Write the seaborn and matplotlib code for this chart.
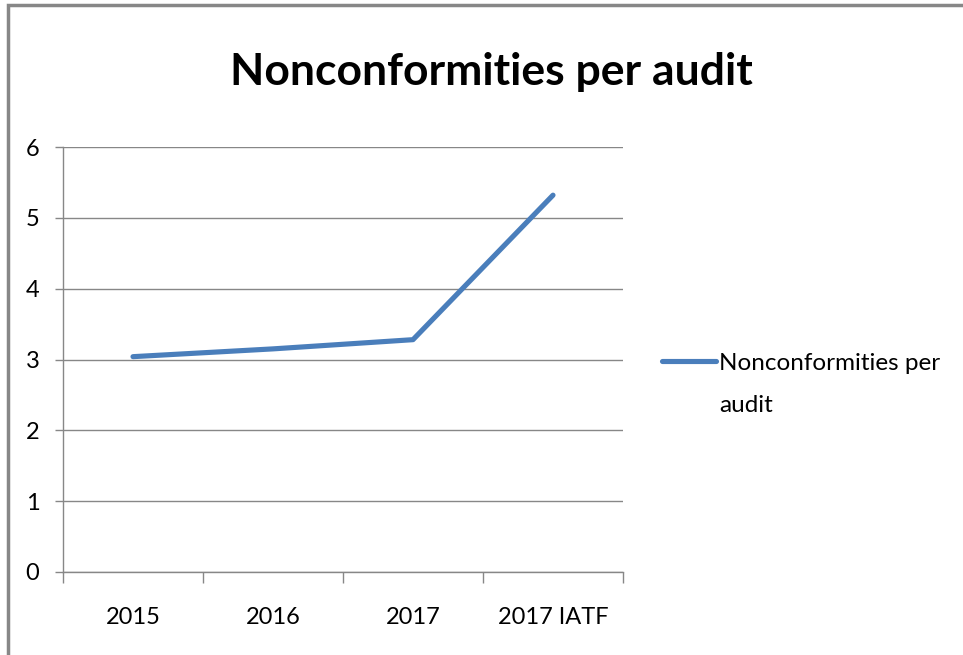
import matplotlib
matplotlib.use("Agg")
import matplotlib.pyplot as plt
import seaborn as sns
import pandas as pd
from matplotlib.patches import Rectangle

categories = ["2015", "2016", "2017", "2017 IATF"]
values = [3.04, 3.15, 3.28, 5.32]
series_name = "Nonconformities per audit"

df = pd.DataFrame({"year": range(len(categories)), "value": values})

sns.set_style("white")
plt.rcParams["font.family"] = ["Lato", "DejaVu Sans"]
plt.rcParams["text.color"] = "black"
plt.rcParams["xtick.color"] = "black"
plt.rcParams["ytick.color"] = "black"

fig = plt.figure(figsize=(9.63, 6.55), dpi=100)
ax = fig.add_axes([63 / 963, 1 - 572 / 655, 560 / 963, 425 / 655])

sns.lineplot(data=df, x="year", y="value", ax=ax, color="#4a7ebb",
             linewidth=3.7, label=series_name)

ax.set_xlim(-0.5, 3.5)
ax.set_ylim(0, 6)
ax.set_yticks(range(0, 7))
ax.set_xticks(range(len(categories)))
ax.set_xticklabels(categories)
ax.set_xticks([-0.5, 0.5, 1.5, 2.5, 3.5], minor=True)
ax.tick_params(axis="x", which="major", bottom=False, pad=22, labelsize=17, labelcolor="black")
ax.tick_params(axis="x", which="minor", bottom=True, length=8, width=1, color="#878787", direction="out")
ax.tick_params(axis="y", left=True, length=6, width=1, color="#878787", direction="out",
               pad=11, labelsize=17, labelcolor="black")
ax.grid(axis="y", color="#878787", linewidth=1)
ax.set_xlabel("")
ax.set_ylabel("")
for side in ["top", "right"]:
    ax.spines[side].set_visible(False)
for side in ["left", "bottom"]:
    ax.spines[side].set_color("#878787")
    ax.spines[side].set_linewidth(1)
ax.set_axisbelow(True)

# legend wraps the series name over two lines, handle next to the first line
ax.legend_.remove()
h, l = ax.get_legend_handles_labels()
first, second = "Nonconformities per", "audit"
leg = fig.legend(h, [first], loc="center left", bbox_to_anchor=(652 / 963, 1 - 363 / 655),
                 frameon=False, fontsize=17.5, handlelength=2.25, handletextpad=0.12,
                 borderaxespad=0)
fig.canvas.draw()
bb = leg.get_texts()[0].get_window_extent()
x0 = bb.x0 / fig.bbox.width
fig.text(x0, 1 - 405 / 655, second, ha="left", va="center", fontsize=17.5, color="black")

fig.text(0.51, 1 - 72 / 655, series_name, ha="center", va="center",
         fontsize=32, fontweight="bold", color="black")

fig.patches.append(Rectangle((8 / 963, -0.1), 1.2, 1 - 5 / 655 + 0.1,
                             transform=fig.transFigure, fill=False,
                             edgecolor="#878787", linewidth=2.5))

fig.savefig("out.png", dpi=100)
